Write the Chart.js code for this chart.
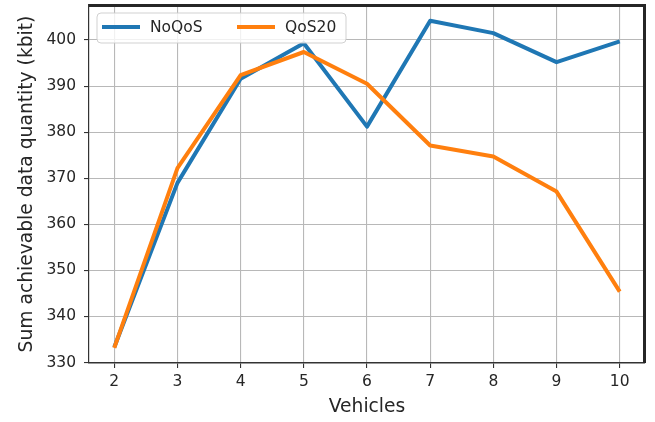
<!DOCTYPE html>
<html>
<head>
<meta charset="utf-8">
<script src="https://cdn.jsdelivr.net/npm/chart.js@4/dist/chart.umd.min.js"></script>
<style>
  html, body { margin: 0; padding: 0; background: #ffffff; }
  #wrap { width: 655px; height: 422px; }
</style>
</head>
<body>
<div id="wrap"><canvas id="c" width="655" height="422"></canvas></div>
<script>
// Number of vehicles on the x axis
const vehicles = [2, 3, 4, 5, 6, 7, 8, 9, 10];
// Sum achievable data quantity (kbit) per scheme
const noQos = [333.3, 369.0, 391.6, 399.3, 381.2, 404.2, 401.5, 395.2, 399.7];
const qos20 = [333.2, 372.2, 392.4, 397.4, 390.5, 377.1, 374.7, 367.1, 345.4];
// Tick values
const xTicks = [2, 3, 4, 5, 6, 7, 8, 9, 10];
const yTicks = [330, 340, 350, 360, 370, 380, 390, 400];

const FONT = "'DejaVu Sans', sans-serif";
const toPoints = ys => vehicles.map((v, i) => ({ x: v, y: ys[i] }));

// Frame on top/right and the boxed legend inside the plot
const framePlugin = {
  id: 'frame',
  afterDatasetsDraw(chart) {
    const { ctx, chartArea: a } = chart;
    ctx.save();
    ctx.strokeStyle = '#262626';
    ctx.lineWidth = 3;
    ctx.beginPath();
    ctx.moveTo(a.left, a.top + 0.5);
    ctx.lineTo(a.right - 0.5, a.top + 0.5);
    ctx.lineTo(a.right - 0.5, a.bottom);
    ctx.stroke();

    // legend box
    const bx = 97, by = 13, bw = 249, bh = 30, r = 4;
    ctx.beginPath();
    ctx.moveTo(bx + r, by);
    ctx.lineTo(bx + bw - r, by);
    ctx.quadraticCurveTo(bx + bw, by, bx + bw, by + r);
    ctx.lineTo(bx + bw, by + bh - r);
    ctx.quadraticCurveTo(bx + bw, by + bh, bx + bw - r, by + bh);
    ctx.lineTo(bx + r, by + bh);
    ctx.quadraticCurveTo(bx, by + bh, bx, by + bh - r);
    ctx.lineTo(bx, by + r);
    ctx.quadraticCurveTo(bx, by, bx + r, by);
    ctx.closePath();
    ctx.fillStyle = 'rgba(255,255,255,0.8)';
    ctx.fill();
    ctx.lineWidth = 1;
    ctx.strokeStyle = 'rgba(204,204,204,0.9)';
    ctx.stroke();

    const entries = chart.data.datasets;
    const starts = [102, 237];
    ctx.font = '15.5px ' + FONT;
    ctx.textBaseline = 'middle';
    ctx.textAlign = 'left';
    entries.forEach((ds, i) => {
      const x0 = starts[i];
      const y0 = 27;
      ctx.strokeStyle = ds.borderColor;
      ctx.lineWidth = 4;
      ctx.lineCap = 'butt';
      ctx.beginPath();
      ctx.moveTo(x0, y0);
      ctx.lineTo(x0 + 38, y0);
      ctx.stroke();
      ctx.fillStyle = '#262626';
      ctx.fillText(ds.label, x0 + 48, y0 + 1);
    });
    ctx.restore();
  }
};

new Chart(document.getElementById('c'), {
  type: 'line',
  data: {
    datasets: [
      {
        label: 'NoQoS',
        data: toPoints(noQos),
        borderColor: '#1f77b4',
        borderWidth: 4,
        pointRadius: 0,
        tension: 0,
        borderJoinStyle: 'round',
        order: 1
      },
      {
        label: 'QoS20',
        data: toPoints(qos20),
        borderColor: '#ff7f0e',
        borderWidth: 4,
        pointRadius: 0,
        tension: 0,
        borderJoinStyle: 'round',
        order: 0
      }
    ]
  },
  options: {
    responsive: false,
    animation: false,
    devicePixelRatio: 1,
    layout: { padding: { left: 0, right: 10, top: 5, bottom: 0 } },
    plugins: { legend: { display: false }, tooltip: { enabled: false } },
    scales: {
      x: {
        type: 'linear',
        min: 1.6,
        max: 10.4,
        afterBuildTicks(scale) { scale.ticks = xTicks.map(v => ({ value: v })); },
        afterFit(scale) { scale.height = 59; scale.paddingLeft = 0; scale.paddingRight = 0; },
        grid: { color: '#b8b8b8', lineWidth: 1.1, tickColor: '#333333', tickLength: 5 },
        border: { color: '#333333', width: 1.5 },
        ticks: { color: '#262626', font: { family: FONT, size: 15.5 }, padding: 5, maxRotation: 0 },
        title: { display: true, text: 'Vehicles', color: '#262626', font: { family: FONT, size: 18.7 }, padding: { top: 0, bottom: 4 } }
      },
      y: {
        type: 'linear',
        min: 329.9,
        max: 407.6,
        afterBuildTicks(scale) { scale.ticks = yTicks.map(v => ({ value: v })); },
        afterFit(scale) { scale.width = 89; scale.paddingTop = 0; scale.paddingBottom = 0; },
        grid: { color: '#b8b8b8', lineWidth: 1.1, tickColor: '#333333', tickLength: 5 },
        border: { color: '#333333', width: 1.2 },
        ticks: { color: '#262626', font: { family: FONT, size: 15.5 }, padding: 8 },
        title: { display: true, text: 'Sum achievable data quantity (kbit)', color: '#262626', font: { family: FONT, size: 18.7 }, padding: { top: 16, bottom: 0 } }
      }
    }
  },
  plugins: [framePlugin]
});
</script>
</body>
</html>
